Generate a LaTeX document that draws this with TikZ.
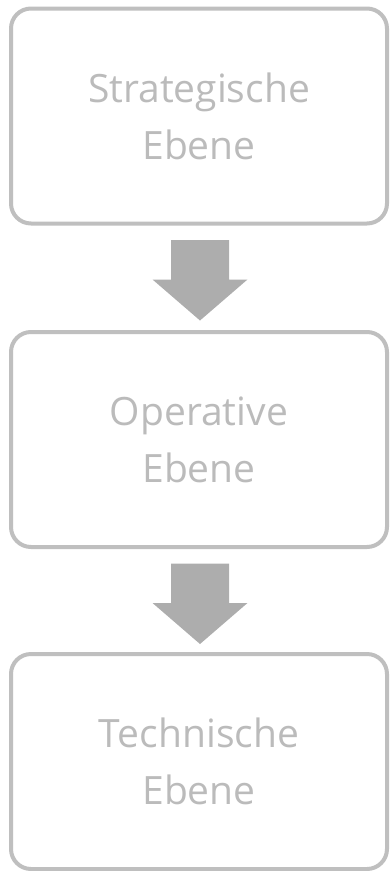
\documentclass[tikz,border=0pt]{standalone}
\usepackage{fontspec}
\setmainfont{Open Sans}
\usetikzlibrary{calc}
\definecolor{boxline}{HTML}{BFBFBF}
\definecolor{arrowfill}{HTML}{ADADAD}
\definecolor{txt}{HTML}{BBBBBB}
\begin{document}
\begin{tikzpicture}[x=1pt,y=-1pt,
  box/.style={draw=boxline, line width=4pt, rounded corners=20pt,
    minimum width=376pt, minimum height=215pt, align=center,
    text=txt, font=\fontsize{39}{57}\selectfont, inner sep=0pt, fill=white},
  arrowpoly/.style={fill=arrowfill, draw=none}]
\useasboundingbox (0,0) rectangle (389,871);
\node[box] (b1) at (199,116) {Strategische\\Ebene};
\node[box] (b2) at (199,439.5) {Operative\\Ebene};
\node[box] (b3) at (199,761.5) {Technische\\Ebene};
\foreach \a in {b1,b2}{
  \coordinate (t) at ($(\a.south)+(1,14.5)$);
  \fill[arrowpoly] ($(t)+(-29,0)$) -- ($(t)+(29,0)$) -- ($(t)+(29,39.5)$) --
    ($(t)+(47.5,39.5)$) -- ($(t)+(0,80.5)$) -- ($(t)+(-47.5,39.5)$) --
    ($(t)+(-29,39.5)$) -- cycle;
}
\end{tikzpicture}
\end{document}
